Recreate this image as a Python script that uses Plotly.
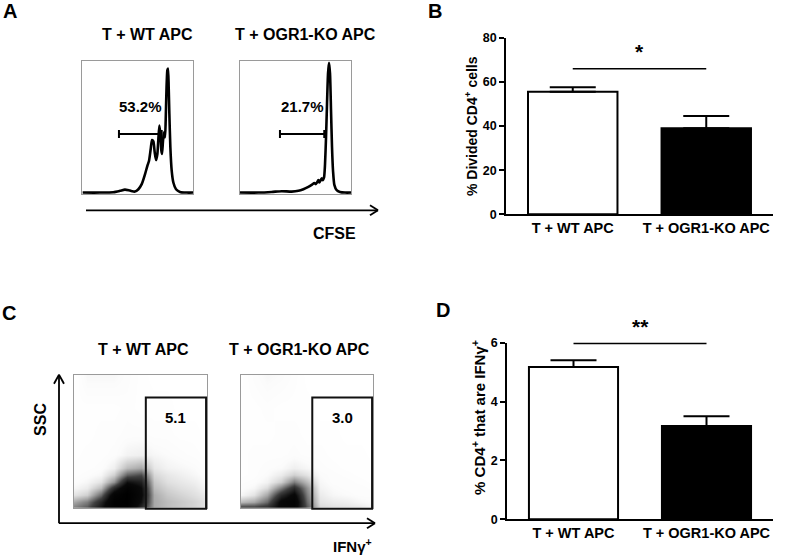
import plotly.graph_objects as go

W, H = 793, 556
FONT = "Liberation Sans, Arial, Helvetica, sans-serif"

# ---------------- Panel A: CFSE histograms (channel 0-100, count % of peak) ----
cfse_wt = [0.6, 16.2, 28.2, 34.2, 38.7, 43.2, 47.7, 50.8, 53.8, 56.8, 58.9, 60.4,
           61.9, 63.1, 64.3, 65.5, 66.7, 67.9, 68.8, 69.7, 70.6, 71.5, 72.1, 73.0,
           73.9, 74.8, 75.4, 76.0, 76.9, 77.5, 78.1, 78.7, 79.6, 80.8, 82.3, 84.7,
           88.3, 94.3, 100]
count_wt = [0, 0, 0.3, 1.4, 2.4, 1.6, 0.8, 2.7, 6.8, 14.9, 21.6, 25.7,
            35.1, 42.4, 41.4, 32.4, 26.2, 31.1, 43.2, 54.1, 47.3, 33.8, 31.1, 41.9,
            48.6, 44.6, 58.1, 79.7, 98.6, 100, 85.1, 63.5, 36.5, 17.6, 8.1, 2.7,
            0.5, 0, 0]
cfse_ko = [0, 16.5, 28.5, 37.5, 46.5, 52.6, 57.1, 61.6, 64.6, 67.0, 68.2, 69.4,
           70.6, 71.5, 72.4, 73.6, 74.5, 75.7, 76.6, 77.5, 78.4, 79.3, 80.2, 81.1,
           82.0, 82.9, 83.8, 85.0, 87.1, 90.1, 94.6, 100]
count_ko = [0, 0, 0.5, 1.1, 0.8, 1.4, 2.7, 4.6, 6.2, 7.6, 6.8, 8.1,
            10.0, 8.1, 9.5, 11.6, 10.0, 12.2, 23.0, 44.6, 71.6, 95.9, 104.6, 95.9,
            66.2, 36.5, 17.6, 6.2, 1.9, 0.5, 0, 0]
divided_gate_wt = [33.3, 71.8]
divided_gate_ko = [36.0, 75.9]
divided_text = ["53.2%", "21.7%"]

# ---------------- Panels B and D: bar charts ----------------
groups = ["T + WT APC", "T + OGR1-KO APC"]
divided_mean = [55.5, 39.0]
divided_sem = [2.1, 5.5]
ifng_mean = [5.17, 3.17]
ifng_sem = [0.23, 0.33]
sig_B = ["*", 66.0]
sig_D = ["**", 5.97]

# ---------------- Panel C: SSC vs IFNg density ---------
dens_x = [0, 10, 20, 30, 40, 50, 60, 70, 80, 90, 100]
dens_y = [0, 5, 10, 15, 20, 25, 30, 40, 55, 75, 100]
dens_wt = [
    [0.35, 0.45, 0.70, 0.95, 0.97, 0.60, 0.25, 0.20, 0.17, 0.14, 0.10],
    [0.25, 0.35, 0.62, 0.97, 1.00, 0.72, 0.25, 0.20, 0.17, 0.14, 0.10],
    [0.10, 0.15, 0.40, 0.88, 1.00, 0.78, 0.24, 0.17, 0.14, 0.11, 0.08],
    [0.05, 0.08, 0.20, 0.60, 0.92, 0.75, 0.20, 0.14, 0.11, 0.09, 0.05],
    [0.03, 0.05, 0.10, 0.30, 0.72, 0.65, 0.17, 0.11, 0.09, 0.07, 0.04],
    [0.02, 0.03, 0.05, 0.15, 0.42, 0.48, 0.13, 0.09, 0.07, 0.05, 0.03],
    [0.02, 0.02, 0.03, 0.07, 0.20, 0.25, 0.09, 0.06, 0.05, 0.04, 0.02],
    [0.01, 0.02, 0.02, 0.03, 0.06, 0.07, 0.05, 0.04, 0.03, 0.02, 0.01],
    [0.01, 0.01, 0.02, 0.02, 0.03, 0.03, 0.02, 0.02, 0.01, 0.01, 0.00],
    [0.01, 0.01, 0.01, 0.01, 0.02, 0.01, 0.01, 0.01, 0.00, 0.00, 0.00],
    [0.00, 0.05, 0.05, 0.05, 0.03, 0.01, 0.00, 0.00, 0.00, 0.00, 0.00],
]
dens_ko = [
    [0.55, 0.55, 0.60, 0.80, 0.85, 0.45, 0.13, 0.11, 0.10, 0.09, 0.05],
    [0.20, 0.25, 0.40, 0.80, 0.90, 0.40, 0.10, 0.08, 0.07, 0.05, 0.04],
    [0.05, 0.10, 0.25, 0.60, 0.80, 0.35, 0.08, 0.05, 0.04, 0.03, 0.03],
    [0.03, 0.05, 0.12, 0.35, 0.60, 0.30, 0.06, 0.04, 0.03, 0.03, 0.02],
    [0.02, 0.03, 0.06, 0.15, 0.35, 0.20, 0.05, 0.03, 0.03, 0.02, 0.01],
    [0.01, 0.02, 0.04, 0.08, 0.15, 0.10, 0.04, 0.03, 0.02, 0.01, 0.01],
    [0.01, 0.02, 0.03, 0.04, 0.07, 0.05, 0.03, 0.02, 0.01, 0.01, 0.01],
    [0.01, 0.02, 0.02, 0.02, 0.03, 0.02, 0.02, 0.01, 0.01, 0.01, 0.00],
    [0.01, 0.01, 0.01, 0.02, 0.02, 0.01, 0.01, 0.01, 0.00, 0.00, 0.00],
    [0.01, 0.01, 0.02, 0.01, 0.01, 0.01, 0.00, 0.00, 0.00, 0.00, 0.00],
    [0.00, 0.03, 0.05, 0.04, 0.02, 0.00, 0.00, 0.00, 0.00, 0.00, 0.00],
]
ifng_gate_x = [54, 99.3]
ifng_gate_y = [0, 83]
ifng_text = ["5.1", "3.0"]

# vertical page-to-photo correction (measured from earlier renders)
Y_OFF, Y_SCALE = 8.3, 0.972


def Y(y):
    return (y - Y_OFF) / Y_SCALE


def dx(a, b):
    return [a / W, b / W]


def dy(top, bottom):
    return [1 - Y(bottom) / H, 1 - Y(top) / H]


def px(x):
    return x / W


def py(y):
    return 1 - Y(y) / H


def to_paper(v, rng, dom):
    return dom[0] + (v - rng[0]) / (rng[1] - rng[0]) * (dom[1] - dom[0])


HIST_R = [-1.35, 106.2]
DOT_R = [0, 100]
dom = {
    "A1": (dx(82, 193), dy(62, 195)),
    "A2": (dx(240, 351), dy(62, 195)),
    "B": (dx(506, 773), dy(39, 215)),
    "C1": (dx(74, 207), dy(375, 508)),
    "C2": (dx(241, 373), dy(375, 508)),
    "D": (dx(507, 773), dy(343, 519)),
}

fig = go.Figure()

# ---- histograms
for i, (xs, ys, gate) in enumerate([(cfse_wt, count_wt, divided_gate_wt),
                                    (cfse_ko, count_ko, divided_gate_ko)]):
    ax = "x" if i == 0 else "x2"
    ay = "y" if i == 0 else "y2"
    fig.add_trace(go.Scatter(x=xs, y=ys, mode="lines", xaxis=ax, yaxis=ay,
                             line=dict(color="black", width=2.6, shape="spline", smoothing=0.6),
                             hoverinfo="skip", showlegend=False))
    gy = 47.3
    fig.add_trace(go.Scatter(x=[gate[0], gate[0], None, gate[0], gate[1], None, gate[1], gate[1]],
                             y=[gy - 3.2, gy + 3.2, None, gy, gy, None, gy - 3.2, gy + 3.2],
                             mode="lines", xaxis=ax, yaxis=ay,
                             line=dict(color="black", width=2), hoverinfo="skip", showlegend=False))
    fig.add_annotation(x=(gate[0] + gate[1]) / 2, y=69, xref=ax, yref=ay,
                       text="<b>%s</b>" % divided_text[i], showarrow=False,
                       font=dict(size=15, color="black"))

# ---- density plots
cscale = [[0, "#ffffff"], [0.04, "#fbfbfb"], [0.1, "#e4e4e4"], [0.25, "#a8a8a8"],
          [0.5, "#404040"], [0.75, "#0a0a0a"], [1, "#000000"]]
for i, z in enumerate([dens_wt, dens_ko]):
    ax = "x4" if i == 0 else "x5"
    ay = "y4" if i == 0 else "y5"
    fig.add_trace(go.Heatmap(x=dens_x, y=dens_y, z=z, xaxis=ax, yaxis=ay, zmin=0, zmax=1,
                             colorscale=cscale, zsmooth="best", showscale=False,
                             hoverinfo="skip"))
    key = "C1" if i == 0 else "C2"
    xd, ydm = dom[key]
    fig.add_shape(type="rect", xref="paper", yref="paper",
                  x0=to_paper(ifng_gate_x[0], DOT_R, xd), x1=to_paper(ifng_gate_x[1], DOT_R, xd),
                  y0=to_paper(ifng_gate_y[0], DOT_R, ydm) - 0.5 / H,
                  y1=to_paper(ifng_gate_y[1], DOT_R, ydm),
                  line=dict(color="#111111", width=2))
    fig.add_annotation(x=(ifng_gate_x[0] + ifng_gate_x[1]) / 2, y=68, xref=ax, yref=ay,
                       text="<b>%s</b>" % ifng_text[i], showarrow=False,
                       font=dict(size=15, color="black"))

# ---- bar charts
for i, (mean, sem, sig) in enumerate([(divided_mean, divided_sem, sig_B),
                                      (ifng_mean, ifng_sem, sig_D)]):
    ax = "x3" if i == 0 else "x6"
    ay = "y3" if i == 0 else "y6"
    fig.add_trace(go.Bar(x=groups, y=mean, xaxis=ax, yaxis=ay, width=0.67,
                         marker=dict(color=["white", "black"], line=dict(color="black", width=2)),
                         error_y=dict(type="data", symmetric=False, array=sem, arrayminus=[0, 0],
                                      width=23, thickness=2, color="black"),
                         hoverinfo="skip", showlegend=False))
    key = "B" if i == 0 else "D"
    rng = [0, 80] if i == 0 else [0, 6]
    ly = to_paper(sig[1], rng, dom[key][1])
    fig.add_shape(type="line", xref=ax, yref="paper", x0=0, x1=1, y0=ly, y1=ly,
                  line=dict(color="black", width=1.5))
    fig.add_annotation(x=0.5, xref=ax, y=ly + 4 / H, yref="paper", yanchor="bottom",
                       text="<b>%s</b>" % sig[0], showarrow=False,
                       font=dict(size=21, color="black"))

# ---- axes
hist_ax = dict(showgrid=False, zeroline=False, showticklabels=False, ticks="",
               showline=True, mirror=True, linecolor="#9a9a9a", linewidth=1)
lay = {}
names = {"A1": ("xaxis", "yaxis", HIST_R, [0, 100]),
         "A2": ("xaxis2", "yaxis2", HIST_R, [0, 100]),
         "C1": ("xaxis4", "yaxis4", DOT_R, DOT_R),
         "C2": ("xaxis5", "yaxis5", DOT_R, DOT_R)}
for k, (xa, ya, yr, xr) in names.items():
    xd, ydm = dom[k]
    anchor_x = ya.replace("axis", "")
    anchor_y = xa.replace("axis", "")
    lay[xa] = dict(hist_ax, domain=xd, range=xr, anchor=anchor_x)
    lay[ya] = dict(hist_ax, domain=ydm, range=yr, anchor=anchor_y)

bar_x = dict(showgrid=False, zeroline=False, showline=True, linecolor="black", linewidth=1.5,
             ticks="", range=[-0.5, 1.5],
             tickfont=dict(size=14.5, family=FONT, color="black", weight="bold"))
bar_y = dict(showgrid=False, zeroline=False, showline=True, linecolor="black", linewidth=1.5,
             ticks="outside", ticklen=5, tickwidth=1.5, tickcolor="black",
             tickfont=dict(size=12.5, family=FONT, color="black", weight="bold"))
lay["xaxis3"] = dict(bar_x, domain=dom["B"][0], anchor="y3")
lay["yaxis3"] = dict(bar_y, domain=dom["B"][1], anchor="x3", range=[0, 80], dtick=20)
lay["xaxis6"] = dict(bar_x, domain=dom["D"][0], anchor="y6")
lay["yaxis6"] = dict(bar_y, domain=dom["D"][1], anchor="x6", range=[0, 6], dtick=2)

fig.update_layout(**lay)

# ---- titles / labels
def label(text, x, y, size, angle=0, xanchor="center", yanchor="middle"):
    fig.add_annotation(x=px(x), y=py(y), xref="paper", yref="paper", text="<b>%s</b>" % text,
                       showarrow=False, textangle=angle, xanchor=xanchor, yanchor=yanchor,
                       font=dict(size=size, color="black", family=FONT))

label("A", 10, 12, 20)
label("B", 435, 12, 20)
label("C", 9, 313, 20)
label("D", 443, 310, 20)
label(groups[0], 147, 36, 16)
label(groups[1], 305, 36, 16)
label(groups[0], 143, 350, 16)
label(groups[1], 299, 350, 16)
label("CFSE", 334, 234, 16)
label("SSC", 41, 420, 16, angle=-90)
label("IFNγ<sup>+</sup>", 352, 545, 15)
label("% Divided CD4<sup>+</sup> cells", 471, 127, 14, angle=-90)
label("% CD4<sup>+</sup> that are IFNγ<sup>+</sup>", 479, 418, 15, angle=-90)

# ---- axis arrows (decorative)
def seg(x0, y0, x1, y1, w=1.8):
    fig.add_shape(type="line", xref="paper", yref="paper", x0=px(x0), y0=py(y0),
                  x1=px(x1), y1=py(y1), line=dict(color="black", width=w))

seg(86, 211, 378, 211)
seg(370, 206, 378, 211)
seg(370, 216, 378, 211)
seg(59, 523, 59, 375)
seg(54, 384, 59, 375)
seg(64, 384, 59, 375)
seg(59, 523, 375, 523)
seg(367, 518, 375, 523)
seg(367, 528, 375, 523)

fig.update_layout(width=W, height=H, margin=dict(l=0, r=0, t=0, b=0),
                  paper_bgcolor="white", plot_bgcolor="white",
                  font=dict(family=FONT, color="black"), showlegend=False)

fig.write_html("out.html", config={"displayModeBar": False},
               post_script=("document.documentElement.style.margin='0';"
                            "document.documentElement.style.overflow='hidden';"
                            "document.body.style.margin='0';"
                            "document.body.style.overflow='hidden';"))
